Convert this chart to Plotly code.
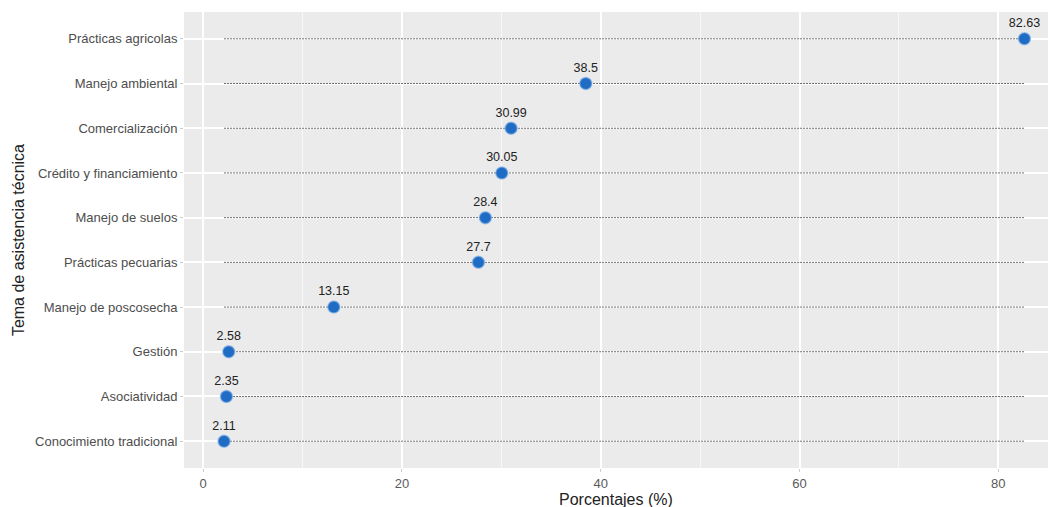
import plotly.graph_objects as go

categories = ["Conocimiento tradicional", "Asociatividad", "Gestión", "Manejo de poscosecha",
              "Prácticas pecuarias", "Manejo de suelos", "Crédito y financiamiento",
              "Comercialización", "Manejo ambiental", "Prácticas agricolas"]
values = [2.11, 2.35, 2.58, 13.15, 27.7, 28.4, 30.05, 30.99, 38.5, 82.63]
labels = ["2.11", "2.35", "2.58", "13.15", "27.7", "28.4", "30.05", "30.99", "38.5", "82.63"]
x_ticks = [0, 20, 40, 60, 80]

vmin, vmax = min(values), max(values)
ypos = list(range(1, len(categories) + 1))
font = "Liberation Sans, Arial, sans-serif"

fig = go.Figure()

# dashed segments from min to max on each row
for y in ypos:
    fig.add_trace(go.Scatter(x=[vmin, vmax], y=[y, y], mode="lines",
                             line=dict(color="#444444", width=0.8, dash="2px,1px"),
                             hoverinfo="skip", showlegend=False))

fig.add_trace(go.Scatter(x=values, y=ypos, mode="markers+text",
                         marker=dict(color="#1f6cc4", size=12,
                                     line=dict(color="rgba(120,170,230,0.6)", width=1.5)),
                         text=labels, textposition="top center", cliponaxis=False,
                         textfont=dict(family=font, size=12.5, color="#222222"),
                         showlegend=False))

fig.update_layout(
    width=1050, height=507,
    margin=dict(l=184, r=2, t=12, b=39),
    paper_bgcolor="white", plot_bgcolor="#ebebeb",
    font=dict(family=font, color="#4d4d4d"),
    xaxis=dict(range=[-1.92, 85.0], tickvals=x_ticks, ticktext=[str(t) for t in x_ticks],
               showgrid=True, gridcolor="white", gridwidth=1.6, automargin=False,
               minor=dict(tickvals=[10, 30, 50, 70], showgrid=True, gridcolor="#f7f7f7", gridwidth=0.8),
               zeroline=False, ticks="outside", ticklen=3, tickcolor="#cccccc",
               tickfont=dict(size=13, color="#5a5a5a")),
    yaxis=dict(range=[0.4, 10.6], tickvals=ypos, ticktext=categories,
               showgrid=True, gridcolor="white", gridwidth=1.6, zeroline=False, automargin=False,
               ticks="outside", ticklen=3, tickcolor="#cccccc",
               tickfont=dict(size=13, color="#4d4d4d")),
)
fig.add_annotation(text="Porcentajes (%)", xref="paper", x=0.5, yref="paper", y=-0.068,
                   yanchor="middle", showarrow=False, font=dict(family=font, size=16, color="#222222"))
fig.add_annotation(text="Tema de asistencia técnica", xref="paper", x=-0.192, xanchor="center",
                   yref="paper", y=0.5, textangle=-90, showarrow=False,
                   font=dict(family=font, size=16, color="#222222"))

fig.write_html("out.html", config={"displayModeBar": False},
               post_script="document.body.style.margin='0';")
